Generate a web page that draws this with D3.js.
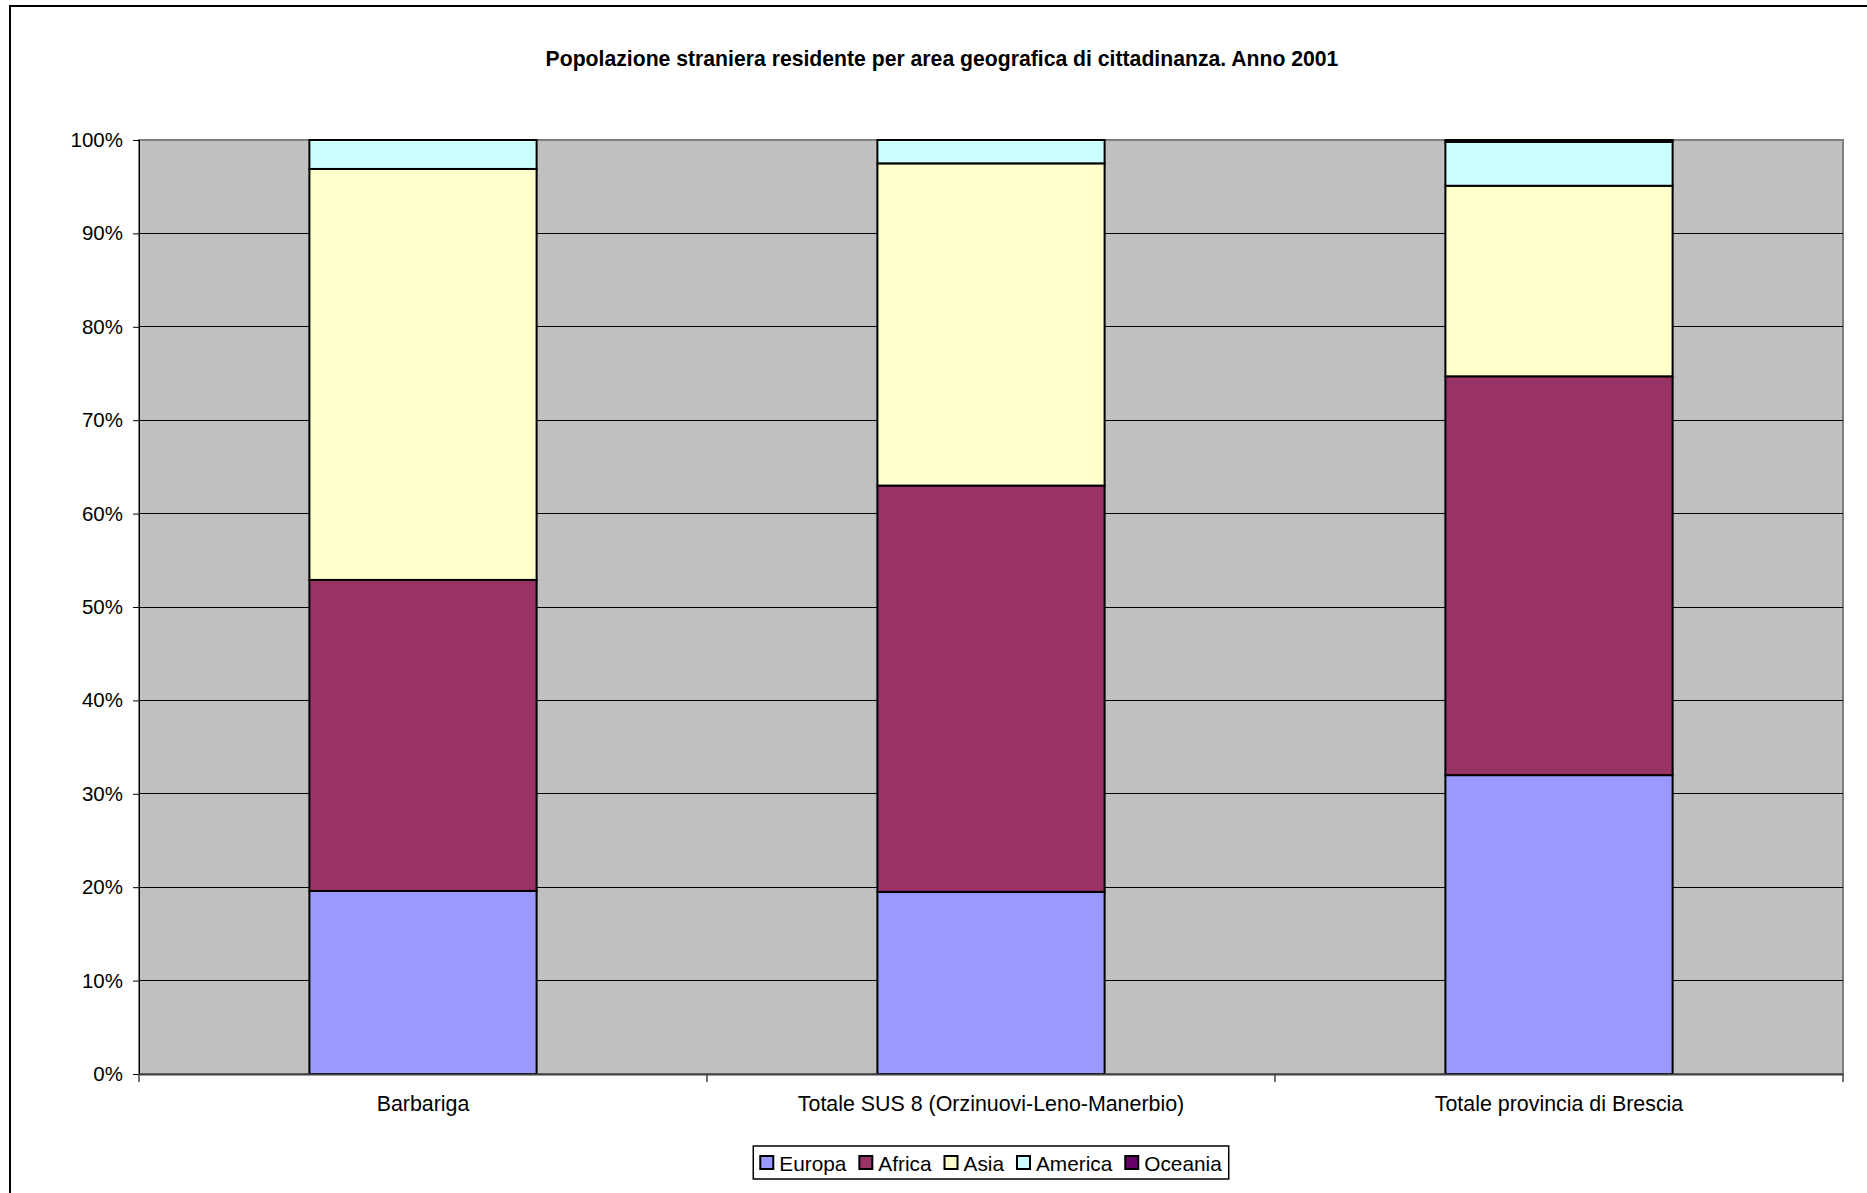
<!DOCTYPE html>
<html>
<head>
<meta charset="utf-8">
<script src="https://cdn.jsdelivr.net/npm/d3@7"></script>
<style>
  html, body { margin: 0; padding: 0; background: #fff; }
  svg { display: block; font-family: "Liberation Sans", Arial, sans-serif; }
</style>
</head>
<body>
<svg id="chart" width="1867" height="1193"></svg>
<script>
const titleText = "Popolazione straniera residente per area geografica di cittadinanza. Anno 2001";
const categories = ["Barbariga", "Totale SUS 8 (Orzinuovi-Leno-Manerbio)", "Totale provincia di Brescia"];
const seriesNames = ["Europa", "Africa", "Asia", "America", "Oceania"];
const seriesColors = ["#9999FF", "#993366", "#FFFFCC", "#CCFFFF", "#660066"];
// percentage shares per category (Barbariga, SUS 8, Provincia)
const europa  = [19.6, 19.5, 32.0];
const africa  = [33.3, 43.5, 42.7];
const asia    = [44.0, 34.5, 20.4];
const america = [3.1, 2.5, 4.7];
const oceania = [0.0, 0.0, 0.2];
const yTicks = [0, 10, 20, 30, 40, 50, 60, 70, 80, 90, 100];

(function () {
const seriesValues = [europa, africa, asia, america, oceania];
const rows = categories.map((c, i) => {
  const r = { cat: c };
  seriesNames.forEach((s, j) => r[s] = seriesValues[j][i]);
  return r;
});

const svg = d3.select("#chart");
const pL = 139, pR = 1843, pT = 140, pB = 1074;

// outer chart border
svg.append("rect").attr("x", 10).attr("y", 6).attr("width", 1900).attr("height", 1300)
  .attr("fill", "none").attr("stroke", "#000").attr("stroke-width", 2);

svg.append("text").attr("x", 942).attr("y", 58).attr("text-anchor", "middle")
  .attr("dominant-baseline", "central").attr("font-weight", "bold").attr("font-size", 21.2)
  .text(titleText);

const x = d3.scaleBand().domain(categories).range([pL, pR]).paddingInner(0).paddingOuter(0);
const y = d3.scaleLinear().domain([0, 100]).range([pB, pT]);
const barW = x.bandwidth() * 0.4;

// plot area
svg.append("rect").attr("x", pL).attr("y", pT).attr("width", pR - pL).attr("height", pB - pT)
  .attr("fill", "#C0C0C0").attr("stroke", "#808080").attr("stroke-width", 2);

// gridlines
svg.append("g").selectAll("line").data(yTicks.filter(t => t > 0 && t < 100)).join("line")
  .attr("x1", pL).attr("x2", pR).attr("y1", d => y(d)).attr("y2", d => y(d))
  .attr("stroke", "#000").attr("stroke-width", 1).attr("shape-rendering", "crispEdges");

// stacked bars
const stack = d3.stack().keys(seriesNames)(rows);
const gBars = svg.append("g");
stack.forEach((layer, j) => {
  gBars.append("g").selectAll("rect").data(layer.filter(d => d[1] - d[0] > 0)).join("rect")
    .attr("x", d => x(d.data.cat) + (x.bandwidth() - barW) / 2)
    .attr("width", barW)
    .attr("y", d => y(d[1]))
    .attr("height", d => y(d[0]) - y(d[1]))
    .attr("fill", seriesColors[j])
    .attr("stroke", "#000").attr("stroke-width", 2);
});

// y axis
const yAxis = d3.axisLeft(y).tickValues(yTicks).tickFormat(d => d + "%").tickSize(6).tickPadding(10);
const gy = svg.append("g").attr("transform", `translate(${pL},0)`).call(yAxis);
gy.select(".domain").attr("stroke", "#000").attr("stroke-width", 1);
gy.selectAll(".tick line").attr("stroke", "#000");
gy.selectAll("text").attr("font-size", 20.5).attr("font-family", "Liberation Sans, Arial, sans-serif").attr("fill", "#000");

// x axis
const xAxis = d3.axisBottom(x).tickSize(0).tickPadding(22);
const gx = svg.append("g").attr("transform", `translate(0,${pB})`).call(xAxis);
gx.select(".domain").attr("stroke", "#404040").attr("stroke-width", 2);
gx.selectAll("text").attr("font-size", 21.4).attr("font-family", "Liberation Sans, Arial, sans-serif").attr("fill", "#000");
// category boundary ticks
const bounds = categories.map(c => x(c)).concat([pR]);
svg.append("g").selectAll("line").data(bounds).join("line")
  .attr("x1", d => d).attr("x2", d => d).attr("y1", pB).attr("y2", pB + 8)
  .attr("stroke", "#404040").attr("stroke-width", 1.5);

// legend
const legBox = svg.append("rect");
const lg = svg.append("g");
let cx = 0;
seriesNames.forEach((s, j) => {
  const g = lg.append("g");
  g.append("rect").attr("x", cx).attr("y", -7).attr("width", 13).attr("height", 13)
    .attr("fill", seriesColors[j]).attr("stroke", "#000").attr("stroke-width", 2);
  const t = g.append("text").attr("x", cx + 19).attr("y", 0).attr("dominant-baseline", "central")
    .attr("font-size", 20.8).text(s);
  const w = t.node().getComputedTextLength();
  cx += 19 + w + 13;
});
const legW = cx - 13;
const legX = (pL + pR) / 2 - legW / 2;
lg.attr("transform", `translate(${legX},1163)`);
legBox.attr("x", legX - 7).attr("y", 1146).attr("width", legW + 14).attr("height", 33)
  .attr("fill", "#fff").attr("stroke", "#000").attr("stroke-width", 1.5);
})();
</script>
</body>
</html>
